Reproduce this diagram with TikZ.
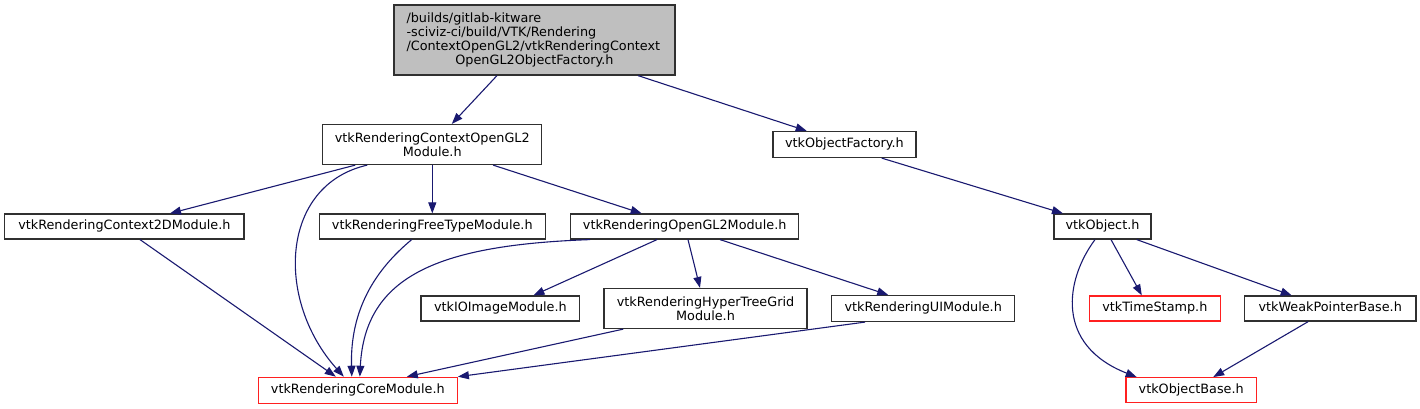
\documentclass[tikz,border=0pt]{standalone}
\usepackage{fontspec}
\setmainfont{DejaVu Sans}
\usetikzlibrary{arrows.meta}
\definecolor{edgec}{HTML}{191970}
\definecolor{redc}{HTML}{FF2020}
\definecolor{topfill}{HTML}{BFBFBF}
\definecolor{borderc}{HTML}{303030}
\begin{document}
\begin{tikzpicture}[x=1pt,y=-1pt,
  basebox/.style={draw=borderc, line width=1.2pt, fill=white, inner sep=0pt, align=center,
    font=\fontsize{12.8}{14}\selectfont},
  box/.style={basebox, minimum height=25pt, text height=9.3pt, text depth=2.7pt},
  boxtwo/.style={basebox, minimum height=40pt},
  redbox/.style={box, draw=redc},
  edge/.style={draw=edgec, line width=1.1pt, -{Triangle[length=11pt,width=8pt]}}
]
\useasboundingbox (0,0) rectangle (1420,409);

% nodes
\node[basebox, fill=topfill, minimum width=281pt, minimum height=70pt, text width=256pt,
      inner xsep=12.5pt, align=left] (top) at (534.5,40)
  {/builds/gitlab-kitware\\-sciviz-ci/build/VTK/Rendering\\/ContextOpenGL2/vtkRenderingContext\\\makebox[\linewidth][c]{OpenGL2ObjectFactory.h}};
\node[boxtwo, minimum width=219pt] (ctx) at (432.3,144.5) {vtkRenderingContextOpenGL2\\Module.h};
\node[box, minimum width=143pt, minimum height=26pt] (ofac) at (844.4,144.5) {vtkObjectFactory.h};
\node[box, minimum width=239.3pt] (c2d) at (124.4,226.5) {vtkRenderingContext2DModule.h};
\node[box, minimum width=226.4pt] (ft) at (432.3,226.5) {vtkRenderingFreeTypeModule.h};
\node[box, minimum width=228pt] (gl2) at (684.7,226.5) {vtkRenderingOpenGL2Module.h};
\node[box, minimum width=97pt] (obj) at (1102.5,226.5) {vtkObject.h};
\node[box, minimum width=158.7pt] (io) at (500.4,308.5) {vtkIOImageModule.h};
\node[boxtwo, minimum width=203pt] (htg) at (705.5,308.5) {vtkRenderingHyperTreeGrid\\Module.h};
\node[box, minimum width=183pt, minimum height=26pt] (ui) at (923.2,308.5) {vtkRenderingUIModule.h};
\node[redbox, minimum width=131pt] (ts) at (1154.8,308.5) {vtkTimeStamp.h};
\node[box, minimum width=171.7pt] (wp) at (1330.2,308.5) {vtkWeakPointerBase.h};
\node[redbox, minimum width=199pt, minimum height=26pt] (core) at (357.8,390.3) {vtkRenderingCoreModule.h};
\node[redbox, minimum width=130.3pt] (ob) at (1191.2,390.2) {vtkObjectBase.h};

% edges
\draw[edge] ([xshift=-37.5pt]top.south) -- ([xshift=19.5pt]ctx.north);
\draw[edge] ([xshift=103.5pt]top.south) -- ([xshift=-37.7pt]ofac.north);
\draw[edge] ([xshift=-77pt]ctx.south) -- ([xshift=45.6pt]c2d.north);
\draw[edge] ([xshift=-65pt]ctx.south) .. controls (280,185) and (275,300) .. ([xshift=-14pt]core.north);
\draw[edge] (ctx.south) -- (ft.north);
\draw[edge] ([xshift=60.8pt]ctx.south) -- ([xshift=-43pt]gl2.north);
\draw[edge] ([xshift=37.3pt]ofac.south) -- ([xshift=-39.5pt]obj.north);
\draw[edge] ([xshift=15.6pt]c2d.south) -- ([xshift=-22pt]core.north);
\draw[edge] ([xshift=-20.6pt]ft.south) .. controls (375,270) and (350,310) .. ([xshift=-6pt]core.north);
\draw[edge] ([xshift=-94.7pt]gl2.south) .. controls (440,245) and (365,275) .. ([xshift=2pt]core.north);
\draw[edge] ([xshift=-27.7pt]gl2.south) -- ([xshift=33pt]io.north);
\draw[edge] ([xshift=3.3pt]gl2.south) -- ([xshift=-5.5pt]htg.north);
\draw[edge] ([xshift=35.3pt]gl2.south) -- ([xshift=-35pt]ui.north);
\draw[edge] ([xshift=-82.2pt]htg.south) -- ([xshift=49pt]core.north);
\draw[edge] ([xshift=-58.2pt]ui.south) -- (core.north east);
\draw[edge] ([xshift=8.5pt]obj.south) -- ([xshift=-13pt]ts.north);
\draw[edge] ([xshift=34.2pt]obj.south) -- ([xshift=-38.5pt]wp.north);
\draw[edge] ([xshift=-7.5pt]obj.south) .. controls (1065,280) and (1055,345) .. ([xshift=-54.5pt]ob.north);
\draw[edge] ([xshift=-22pt]wp.south) -- ([xshift=22pt]ob.north);
\end{tikzpicture}
\end{document}
